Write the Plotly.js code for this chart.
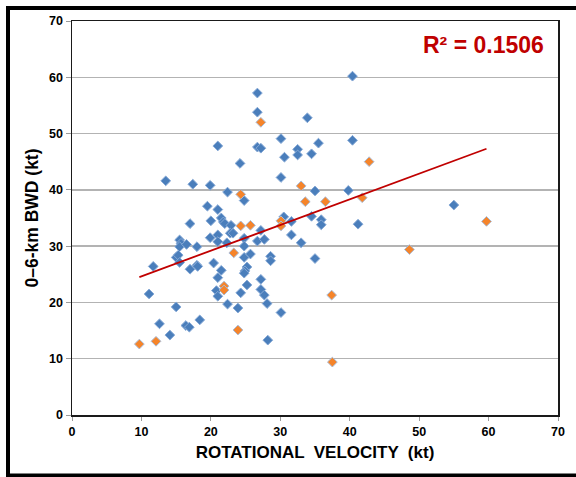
<!DOCTYPE html>
<html>
<head>
<meta charset="utf-8">
<script src="https://cdn.plot.ly/plotly-3.0.1.min.js"></script>
<style>
  html, body { margin: 0; padding: 0; background: #ffffff; }
  #chart { width: 576px; height: 477px; }
</style>
</head>
<body>
<div id="chart"></div>
<script>
// Series 1 (blue diamonds): rotational velocity (kt) vs 0-6-km BWD (kt)
const blueX = [11.1, 11.7, 12.6, 13.5, 14.1, 15.0, 15.0, 15.3, 15.5, 15.5, 15.7, 15.5, 16.4, 16.5, 16.9, 17.0, 17.0, 17.4, 18.0, 18.0, 18.1, 18.4,
  19.5, 19.9, 20.0, 19.9, 20.4, 21.0, 21.0, 21.0, 21.0, 21.0, 20.8, 21.0, 21.5, 21.8, 22.0, 21.5, 22.4, 22.4, 22.3, 22.9, 22.8, 23.2,
  23.9, 24.2, 24.3, 24.8, 24.8, 24.8, 24.8, 25.7, 25.2, 24.9, 24.8, 25.2, 26.7, 26.7, 26.7, 27.2, 27.2, 26.7, 27.7, 27.2, 27.2, 27.7,
  28.1, 28.2, 28.6, 28.6, 30.1, 30.6, 30.1, 30.5, 31.6, 31.6, 30.1, 32.5, 32.5, 33.0, 33.9, 34.5, 35.5, 35.0, 34.5, 35.9, 35.9, 35.0,
  39.8, 40.4, 40.4, 41.2, 55.0];
const blueY = [21.5, 26.4, 16.2, 41.6, 14.2, 19.2, 28.0, 28.4, 27.1, 31.1, 30.5, 29.9, 15.9, 30.3, 15.6, 34.0, 25.9, 41.0, 29.9, 26.6, 26.4, 16.9,
  37.1, 40.8, 34.5, 31.5, 27.0, 47.8, 36.5, 32.0, 30.8, 24.4, 22.1, 21.1, 35.0, 34.3, 34.0, 25.7, 39.6, 19.7, 30.6, 33.7, 32.3, 32.3,
  19.0, 44.7, 21.7, 38.1, 31.4, 30.0, 28.0, 28.6, 26.3, 25.6, 25.2, 23.1, 57.2, 53.8, 47.6, 47.4, 32.8, 30.9, 31.2, 24.1, 22.3, 21.3,
  19.8, 13.3, 28.2, 27.4, 49.1, 45.8, 42.2, 35.2, 34.4, 32.0, 18.2, 47.2, 46.2, 30.6, 52.8, 46.4, 48.3, 39.8, 35.3, 34.7, 33.8, 27.8,
  39.9, 60.2, 48.8, 33.9, 37.3];

// Series 2 (orange diamonds)
const orangeX = [9.7, 12.1, 21.9, 21.9, 23.3, 23.9, 24.3, 24.3, 25.7, 27.2, 30.1, 30.1, 33.0, 33.6, 36.5, 37.4, 37.5, 41.8, 42.8, 48.6, 59.7];
const orangeY = [12.6, 13.1, 22.9, 22.2, 28.8, 15.1, 39.2, 33.6, 33.7, 52.0, 34.5, 33.6, 40.7, 37.9, 37.9, 21.3, 9.4, 38.6, 45.0, 29.4, 34.4];

// Linear trend line endpoints
const trendX = [9.7, 59.7];
const trendY = [24.5, 47.3];
const r2Label = 'R² = 0.1506';

// Axis ticks
const tickVals = [0, 10, 20, 30, 40, 50, 60, 70];
const tickText = ['0', '10', '20', '30', '40', '50', '60', '70'];

const L = 72, R = 18, T = 21, B = 62, W = 576, H = 477;
const pw = W - L - R, ph = H - T - B;
const px = X => (X - L) / pw;
const py = Y => (H - B - Y) / ph;

const traces = [
  {
    type: 'scatter', mode: 'markers', x: blueX, y: blueY, name: 'Series 1',
    marker: { symbol: 'diamond', size: 7.5, color: '#4A7EBB', line: { color: '#86A9D6', width: 1 } },
    hoverinfo: 'x+y'
  },
  {
    type: 'scatter', mode: 'markers', x: orangeX, y: orangeY, name: 'Series 2',
    marker: { symbol: 'diamond', size: 7.5, color: '#F5842A', line: { color: '#A9BCD8', width: 1 } },
    hoverinfo: 'x+y'
  },
  {
    type: 'scatter', mode: 'lines', x: trendX, y: trendY, name: 'Linear',
    line: { color: '#C00000', width: 1.8 }, hoverinfo: 'skip'
  }
];

const axisFont = { family: 'Liberation Sans, Arial, sans-serif', size: 12.5, color: '#000000', weight: 'bold' };

const layout = {
  width: W, height: H,
  margin: { l: L, r: R, t: T, b: B, pad: 0 },
  paper_bgcolor: '#ffffff', plot_bgcolor: '#ffffff',
  showlegend: false,
  xaxis: {
    range: [0, 70], tickvals: tickVals, ticktext: tickText,
    showgrid: false, zeroline: false,
    showline: true, linecolor: '#1a1a1a', linewidth: 1.5, mirror: true,
    ticks: 'outside', ticklen: 4, tickcolor: '#9a9a9a', tickwidth: 1,
    tickfont: axisFont,
    title: { text: 'ROTATIONAL  VELOCITY  (kt)', standoff: 8,
      font: { family: 'Liberation Sans, Arial, sans-serif', size: 17, color: '#000000', weight: 'bold' } }
  },
  yaxis: {
    range: [0, 70], tickvals: tickVals, ticktext: tickText,
    showgrid: true, gridcolor: '#B3B3B3', gridwidth: 1.3, zeroline: false,
    showline: true, linecolor: '#1a1a1a', linewidth: 1.5, mirror: true,
    ticks: 'outside', ticklen: 5, tickcolor: '#9a9a9a', tickwidth: 1,
    tickfont: axisFont,
    title: { text: '0–6-km BWD (kt)', standoff: 6,
      font: { family: 'Liberation Sans, Arial, sans-serif', size: 17.5, color: '#000000', weight: 'bold' } }
  },
  annotations: [
    {
      xref: 'paper', yref: 'paper', x: px(546), y: py(45),
      xanchor: 'right', yanchor: 'middle', showarrow: false,
      text: r2Label,
      font: { family: 'Liberation Sans, Arial, sans-serif', size: 23, color: '#C00000', weight: 'bold' }
    }
  ],
  shapes: [
    {
      type: 'rect', xref: 'paper', yref: 'paper',
      x0: px(8), x1: px(582), y0: py(475.5), y1: py(8),
      line: { color: '#000000', width: 4 }, fillcolor: 'rgba(0,0,0,0)', layer: 'above'
    }
  ]
};

Plotly.newPlot('chart', traces, layout, { displayModeBar: false, staticPlot: true });
</script>
</body>
</html>
